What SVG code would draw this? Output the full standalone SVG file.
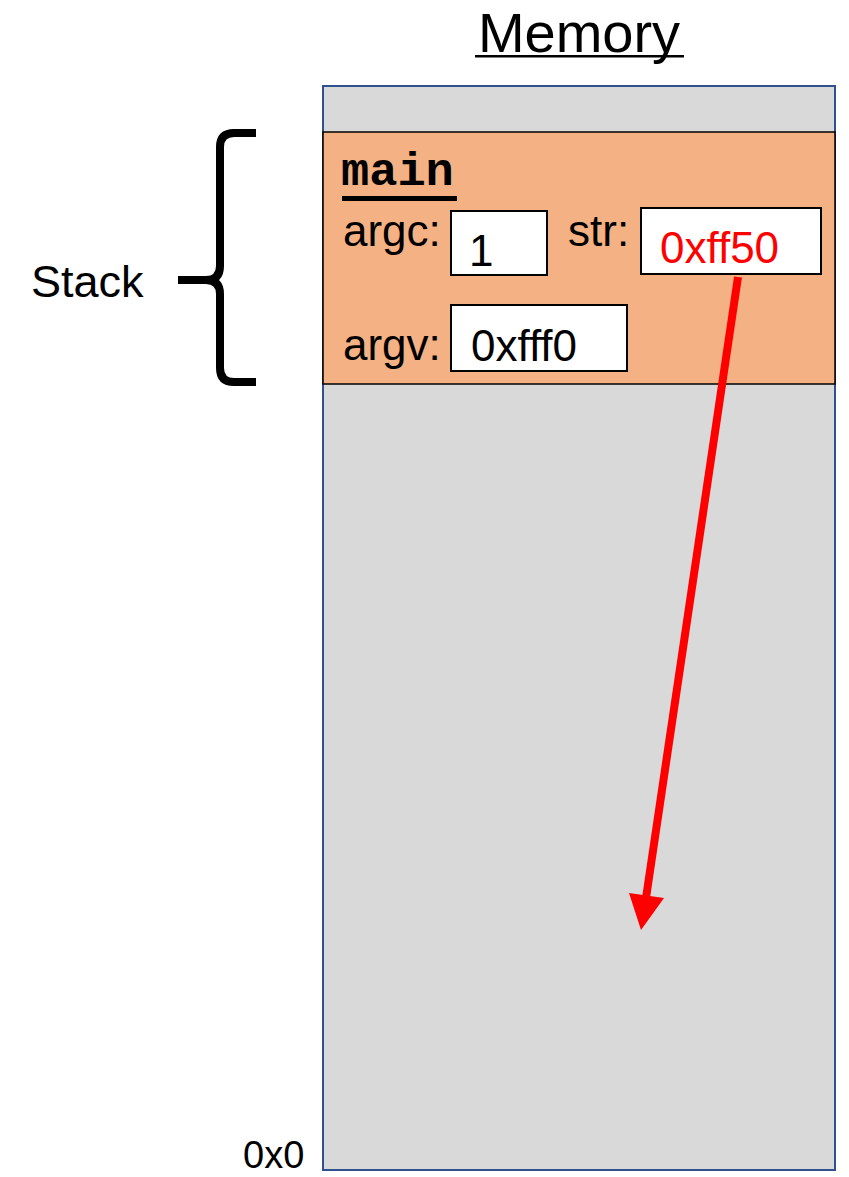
<svg xmlns="http://www.w3.org/2000/svg" width="849" height="1177" viewBox="0 0 849 1177">
<style>
.lbl{font-family:"Liberation Sans",Arial,sans-serif;font-size:44px;fill:#000}
.val{font-family:"Liberation Sans",Arial,sans-serif;font-size:44px;fill:#000}
.box{fill:#fff;stroke:#000;stroke-width:2}
</style>
<rect width="849" height="1177" fill="#fff"/>
<g id="title">
<text x="579" y="52" text-anchor="middle" style="font-family:'Liberation Sans',Arial,sans-serif;font-size:56px">Memory</text>
<rect x="475" y="55" width="209" height="2.5" fill="#000"/>
</g>
<g id="memory">
<rect x="323" y="86" width="512" height="1084" fill="#d9d9d9" stroke="#2f528f" stroke-width="2"/>
<text x="243" y="1168" style="font-family:'Liberation Sans',Arial,sans-serif;font-size:38px">0x0</text>
</g>
<g id="stack-label">
<text x="31" y="297" class="lbl" style="font-size:45px">Stack</text>
<path d="M256,133 L234,133 Q220,133 220,147 L220,266 Q220,280 206,280 L178,280 M206,280 Q220,280 220,294 L220,368 Q220,382 234,382 L256,382" fill="none" stroke="#000" stroke-width="8"/>
</g>
<g id="main">
<rect x="323" y="132" width="512" height="252" fill="#f4b183" stroke="#000" stroke-width="1.5"/>
<text x="341" y="185" style="font-family:'Liberation Mono','Courier New',monospace;font-weight:bold;font-size:47px">main</text>
<rect x="342" y="196" width="115" height="5" fill="#000"/>
</g>
<g id="argc">
<text x="343" y="246" class="lbl">argc:</text>
<rect x="451" y="211" width="96" height="64" class="box"/>
<text x="469" y="266" class="val">1</text>
</g>
<g id="str">
<text x="568" y="246" class="lbl">str:</text>
<rect x="641" y="208" width="180" height="66" class="box"/>
<text x="660" y="263" class="val" style="fill:#ff0000">0xff50</text>
</g>
<g id="argv">
<text x="343" y="360" class="lbl">argv:</text>
<rect x="451" y="305" width="176" height="66" class="box"/>
<text x="471" y="361" class="val">0xfff0</text>
</g>
<g id="connectors">
<line x1="738" y1="277" x2="646" y2="898" stroke="#ff0000" stroke-width="8"/>
<polygon points="629,893 664,898 641,930" fill="#ff0000"/>
</g>
</svg>
